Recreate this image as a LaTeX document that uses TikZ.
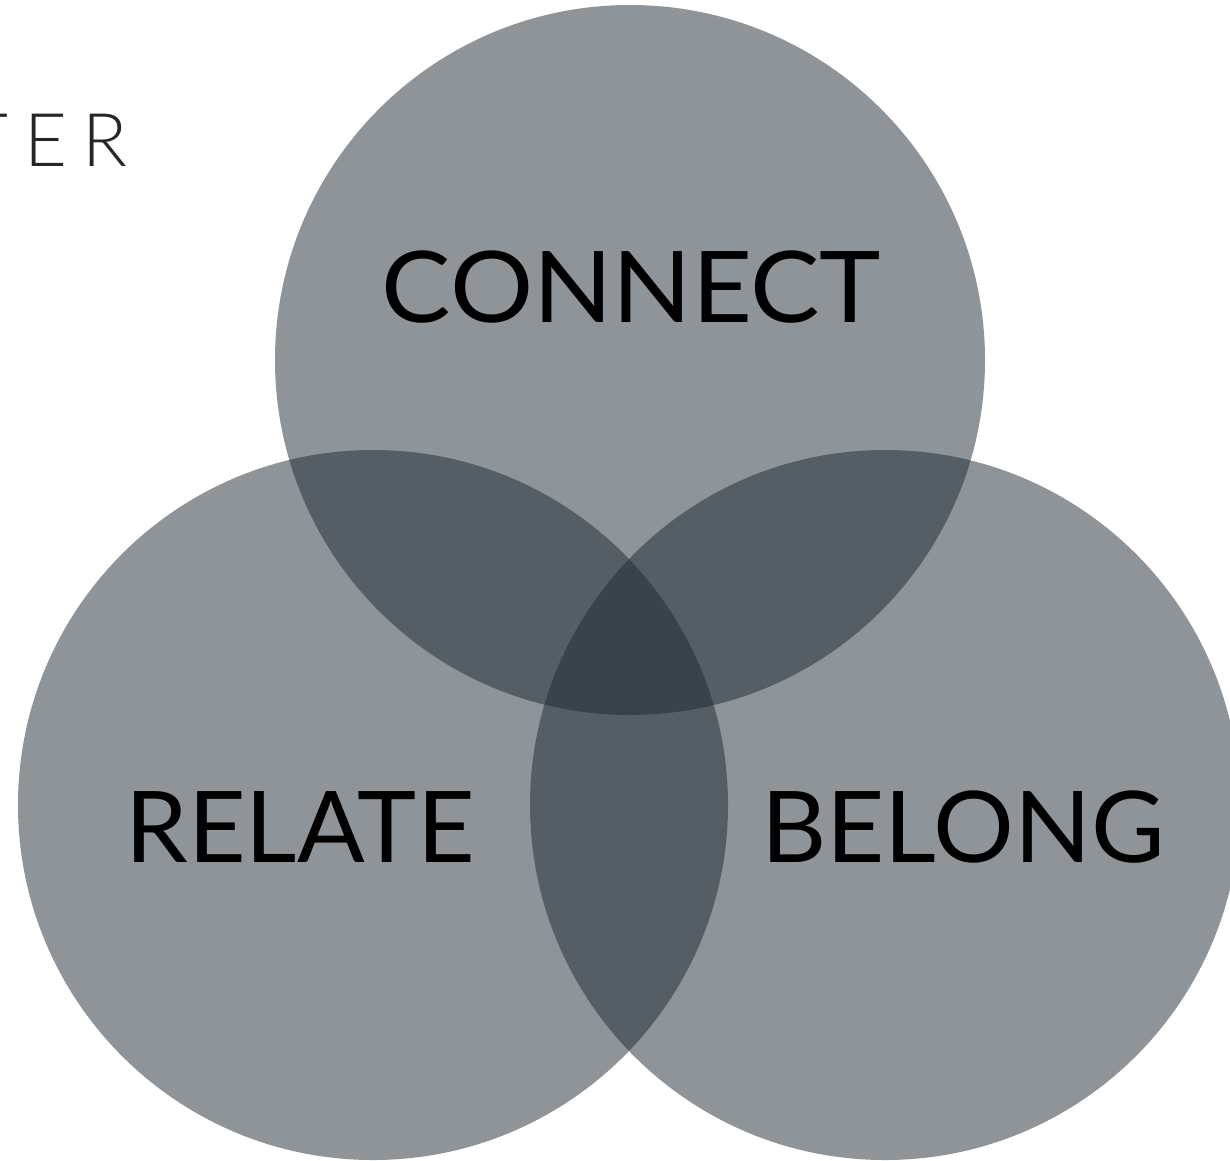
\documentclass[tikz,border=0pt]{standalone}
\usepackage{fontspec}
\setmainfont{Lato}
\IfFontExistsTF{Lato Light}{\newfontfamily\lightfont{Lato Light}}{\newfontfamily\lightfont{Lato}}
\definecolor{venn}{RGB}{29,41,49}
\definecolor{ink}{RGB}{38,38,38}
\tikzset{
  vennfill/.style={fill=venn, fill opacity=0.5},
  biglabel/.style={inner sep=0pt, text=black, font=\fontsize{99}{110}\selectfont},
  sidelabel/.style={inner sep=0pt, text=ink, font=\lightfont\fontsize{74}{80}\selectfont}
}
\begin{document}
\begin{tikzpicture}[x=1pt,y=-1pt]
\useasboundingbox (0,0) rectangle (1230,1160);
\clip (0,0) rectangle (1230,1160);
\coordinate (ctop) at (630,360);
\coordinate (cleft) at (373,805);
\coordinate (cright) at (885,805);
\fill[vennfill] (ctop) circle[radius=355];
\fill[vennfill] (cleft) circle[radius=355];
\fill[vennfill] (cright) circle[radius=355];
\node[biglabel, xscale=1.05] (connect) at (631.5,287) {CONNECT};
\node[biglabel, xscale=1.01] (relate) at (300,827) {RELATE};
\node[biglabel, xscale=1.02] (belong) at (963,827) {BELONG};
\node[sidelabel, anchor=base east] (ter) at (128,166) {T\kern17pt E\kern15pt R};
\end{tikzpicture}
\end{document}
